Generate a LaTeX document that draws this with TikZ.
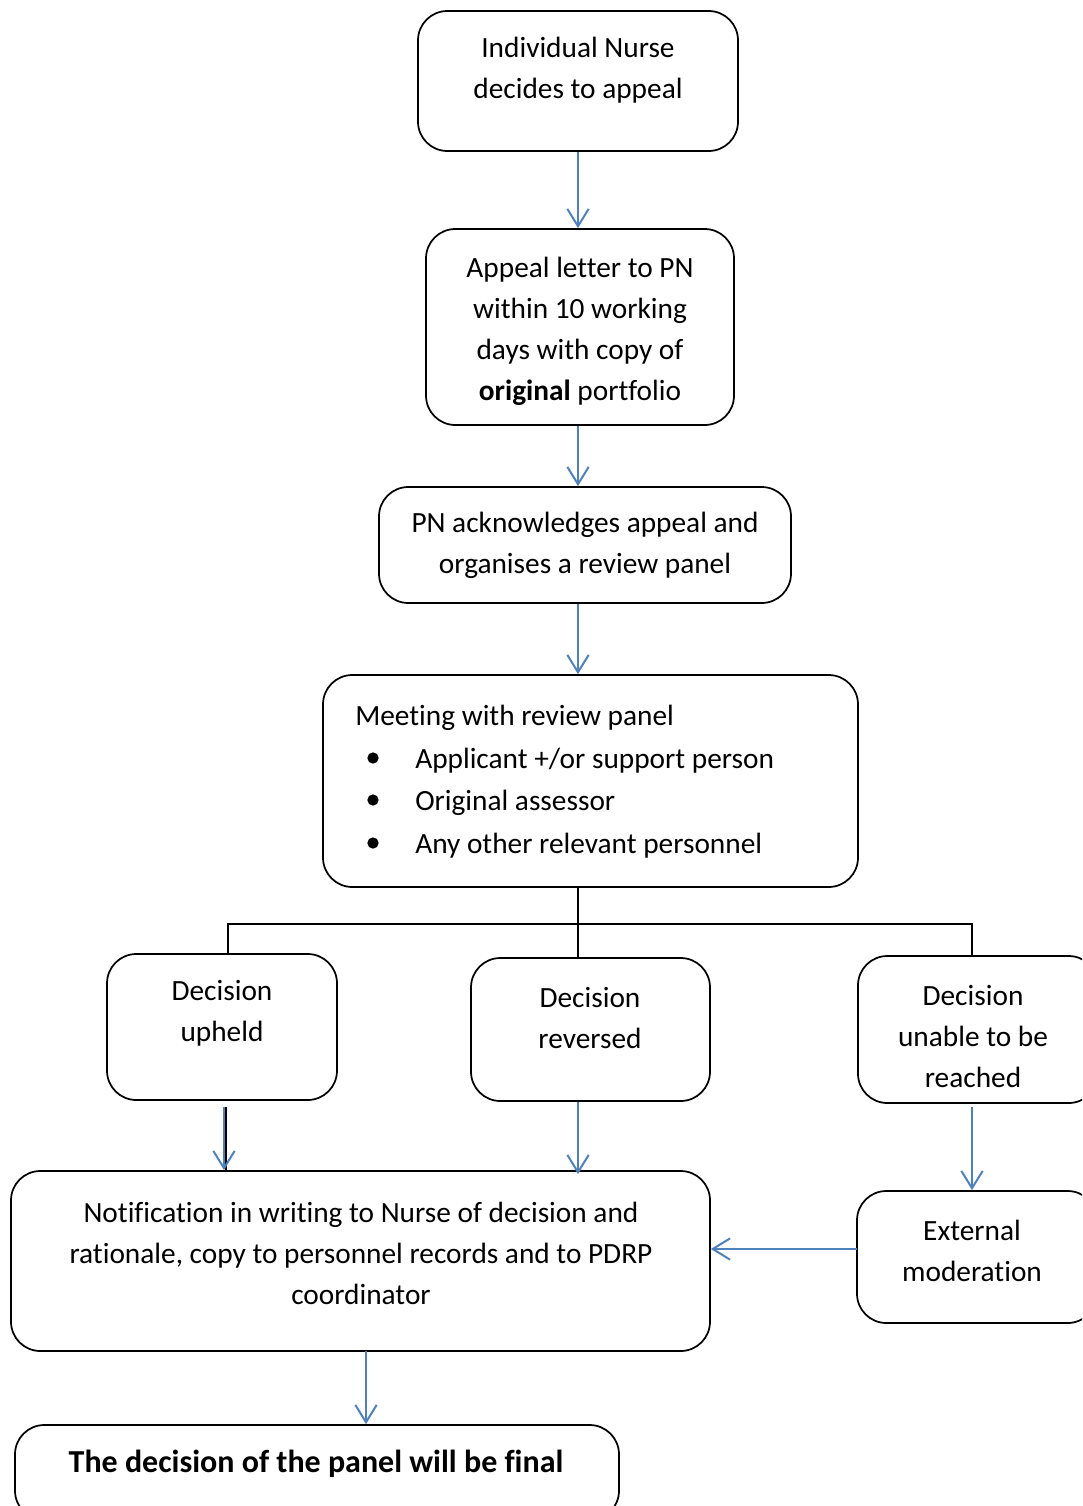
\documentclass[tikz,border=0pt]{standalone}
\usepackage{fontspec}
\setmainfont{Carlito}[Ligatures={NoCommon}]
\usetikzlibrary{arrows.meta,calc}
\definecolor{flowblue}{HTML}{4F81BD}
\begin{document}
\begin{tikzpicture}[x=0.75pt,y=-0.75pt,
  box/.style={draw=black,line width=1.3pt,rounded corners=22pt,
    minimum width=#1,inner sep=0pt},
  txt/.style={align=center,inner sep=0pt,
    font=\fontsize{22pt}{30.75pt}\selectfont},
  ltxt/.style={anchor=west,inner sep=0pt,
    font=\fontsize{22pt}{30.75pt}\selectfont},
  arr/.style={draw=flowblue,line width=1.5pt,
    -{Straight Barb[length=13pt,width=16pt,line width=1.5pt]}},
  tree/.style={draw=black,line width=1.3pt},
  dot/.style={circle,fill=black,inner sep=0pt,minimum size=8.5pt}]
\useasboundingbox (0,0) rectangle (1082,1506);
\clip (0,0) rectangle (1082,1506);

% boxes
\node[box=240pt,minimum height=105pt]   (b1)  at (578,81) {};
\node[box=231pt,minimum height=147pt]   (b2)  at (580,327) {};
\node[box=309pt,minimum height=87pt]    (b3)  at (585,545) {};
\node[box=401.25pt,minimum height=159pt](b4)  at (590.5,781) {};
\node[box=172.5pt,minimum height=109.5pt](b5) at (222,1027) {};
\node[box=179.25pt,minimum height=107.25pt](b6) at (590.5,1029.5) {};
\node[box=180pt,minimum height=110.25pt](b7)  at (978,1029.5) {};
\node[box=524.25pt,minimum height=135pt](b8)  at (360.5,1261) {};
\node[box=180pt,minimum height=99pt]    (b9)  at (977,1257) {};
\node[box=453pt,minimum height=71.25pt] (b10) at (317,1472.5) {};

% texts
\node[txt] (t1) at (578,70) {Individual Nurse\\decides to appeal};
\node[txt] (t2) at (580,331.5) {Appeal letter to PN\\within 10 working\\days with copy of\\\textbf{original} portfolio};
\node[txt] (t3) at (585,545.5) {PN acknowledges appeal and\\organises a review panel};
\node[ltxt] (m0) at (355,717.5) {Meeting with review panel};
\node[ltxt] (m1) at (415,760.5) {Applicant +/or support person};
\node[ltxt] (m2) at (415,802.5) {Original assessor};
\node[ltxt] (m3) at (415,845.5) {Any other relevant personnel};
\node[dot] (d1) at (373,758) {};
\node[dot] (d2) at (373,800) {};
\node[dot] (d3) at (373,843) {};
\node[txt] (t5) at (222,1013.5) {Decision\\upheld};
\node[txt] (t6) at (590,1018) {Decision\\reversed};
\node[txt] (t7) at (973,1037) {Decision\\unable to be\\reached};
\node[txt] (t8) at (361,1253) {Notification in writing to Nurse of decision and\\rationale, copy to personnel records and to PDRP\\coordinator};
\node[txt] (t9) at (972,1250.5) {External\\moderation};
\node[txt,font=\fontsize{24pt}{30.75pt}\selectfont\bfseries] (t10) at (316,1464) {The decision of the panel will be final};

% branching lines below the review meeting
\coordinate (fork)  at (578,924);
\coordinate (forkl) at (228,924);
\coordinate (forkr) at (972,924);
\draw[tree] (b4.south -| fork) -- (b6.north -| fork);
\draw[tree] (b5.north -| forkl) -- (forkl) -- (forkr) -- (b7.north -| forkr);

% arrows
\draw[arr] (b1.south) -- (b2.north -| b1.south);
\draw[arr] (b2.south -| b1.south) -- (b3.north -| b1.south);
\draw[arr] (b3.south -| b1.south) -- (b4.north -| b1.south);

\coordinate (ua) at (224,1107);
\coordinate (ub) at (226,1107);
\draw[tree] (ub) -- (b8.north -| ub);
\draw[arr] (ua) -- (b8.north -| ua);
\draw[arr] (b6.south -| fork) -- ($(b8.north -| fork)+(0,4)$);
\coordinate (ur) at (972,1107);
\draw[arr] (ur) -- (b9.north -| ur);
\coordinate (um) at (857,1249);
\draw[arr] (um) -- (b8.east |- um);
\coordinate (uf) at (366,1351);
\draw[arr] (uf) -- (b10.north -| uf);
\end{tikzpicture}
\end{document}
